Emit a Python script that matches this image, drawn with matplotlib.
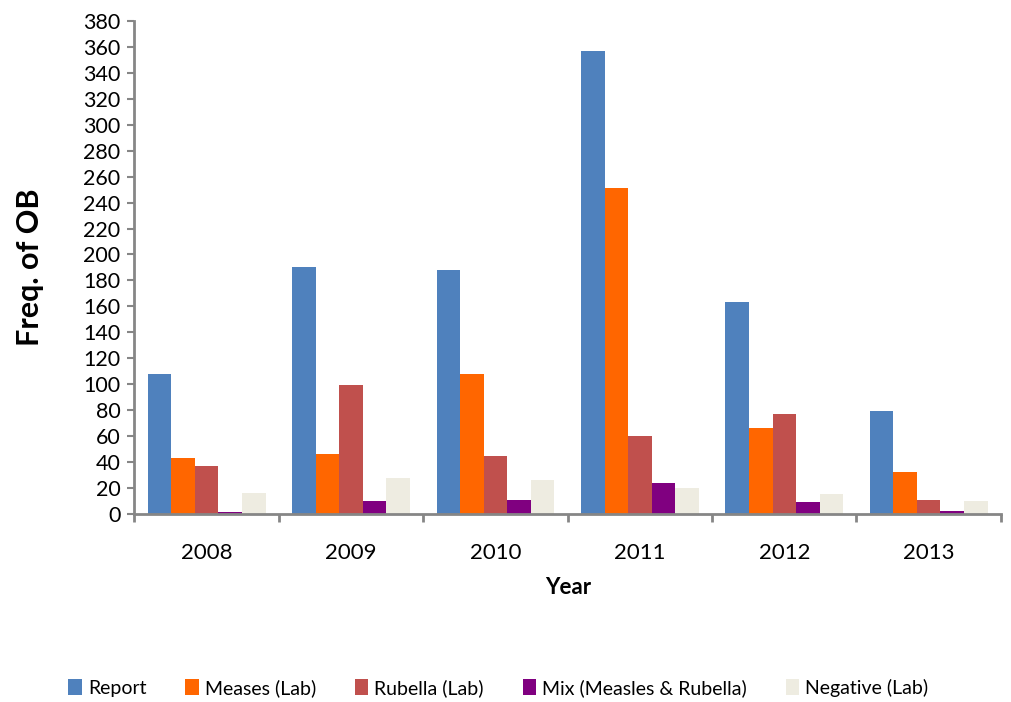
import numpy as np
import matplotlib.pyplot as plt

plt.rcParams['font.family'] = ['Lato', 'DejaVu Sans']

years = ['2008', '2009', '2010', '2011', '2012', '2013']
report = [108, 190, 188, 357, 163, 79]
measles = [43, 46, 108, 251, 66, 32]
rubella = [37, 99, 45, 60, 77, 11]
mix = [1.5, 10, 11, 24, 9, 2.5]
negative = [16, 28, 26, 20, 15, 10]

series = [
    ('Report', report, '#4F81BD'),
    ('Meases (Lab)', measles, '#FF6600'),
    ('Rubella (Lab)', rubella, '#C0504D'),
    ('Mix (Measles & Rubella)', mix, '#800080'),
    ('Negative (Lab)', negative, '#EEECE1'),
]

fig = plt.figure(figsize=(10.11, 7.02), dpi=100)
ax = fig.add_axes([0.133, 0.268, 0.857, 0.702])

x = np.arange(len(years))
w = 0.163
for i, (name, vals, col) in enumerate(series):
    ax.bar(x + (i - 2) * w, vals, width=w, color=col, label=name)

ax.set_xlim(-0.5, len(years) - 0.5)
ax.set_ylim(0, 380)
ax.set_yticks(np.arange(0, 381, 20))
ax.set_xticks(x)
ax.set_xticklabels(years)
ax.set_xticks(np.arange(-0.5, len(years), 1), minor=True)
ax.tick_params(axis='x', which='major', length=0, pad=21, labelsize=16)
ax.tick_params(axis='x', which='minor', length=6, width=2, color='#868686')
ax.tick_params(axis='y', length=5, width=1.5, color='#868686', labelsize=15.5, pad=5)

for s in ['top', 'right']:
    ax.spines[s].set_visible(False)
for s in ['left', 'bottom']:
    ax.spines[s].set_color('#868686')
    ax.spines[s].set_linewidth(2)

ax.set_xlabel('Year', fontsize=16, fontweight='bold', labelpad=10)
ax.set_ylabel('Freq. of OB', fontsize=22, fontweight='bold', labelpad=28)

fig.legend(loc='center', bbox_to_anchor=(0.493, 0.02), ncol=5, frameon=False,
           fontsize=14, handlelength=0.7, handleheight=0.9, handletextpad=0.3,
           columnspacing=2.0)

fig.savefig('out.png', dpi=100)
